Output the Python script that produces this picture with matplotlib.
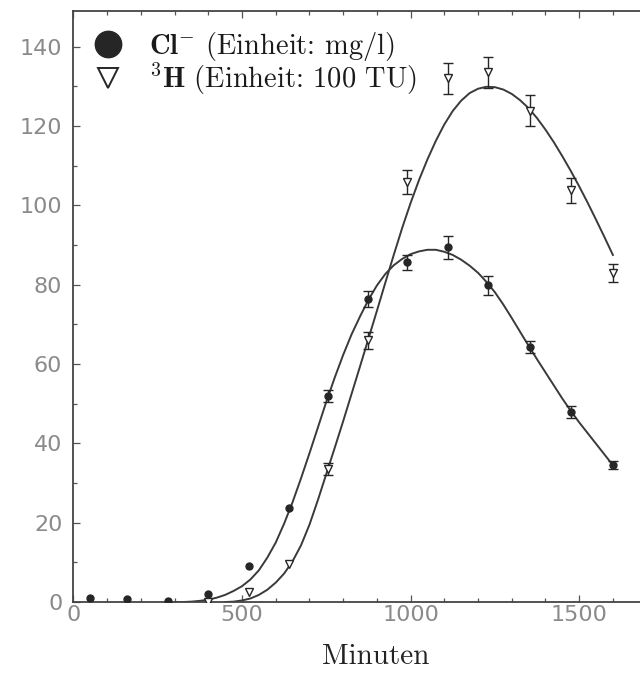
import matplotlib
matplotlib.use("Agg")
import matplotlib.pyplot as plt
from matplotlib.lines import Line2D
import numpy as np

plt.rcParams['mathtext.fontset'] = 'cm'

# ---- data ----
cl_x = [50, 160, 280, 400, 520, 640, 755, 875, 990, 1110, 1230, 1355, 1475, 1600]
cl_y = [1.0, 0.8, 0.3, 2.0, 9.1, 23.7, 51.9, 76.3, 85.6, 89.4, 79.8, 64.2, 47.9, 34.5]
cl_err = [0, 0, 0, 0, 0, 0, 1.5, 2.0, 2.0, 3.0, 2.5, 1.5, 1.5, 1.0]

h3_x = [400, 520, 640, 755, 875, 990, 1110, 1230, 1355, 1475, 1600]
h3_y = [0.0, 2.5, 9.6, 33.5, 66.0, 105.8, 132.0, 133.5, 123.9, 103.8, 82.9]
h3_err = [0, 0, 0, 1.5, 2.2, 3.0, 4.0, 4.0, 3.8, 3.2, 2.3]

# fitted curves, every 25 minutes
cl_fit_x = list(range(300, 1601, 25))
cl_fit_y = [0.0, 0.0, 0.1, 0.3, 0.6, 1.1, 1.8, 2.8, 4.0, 5.7, 8.0, 11.2, 15.0, 19.8,
            25.2, 31.2, 37.5, 44.0, 50.5, 56.6, 62.3, 67.5, 72.0, 76.2, 79.8, 82.7,
            84.9, 86.5, 87.7, 88.4, 88.8, 88.8, 88.3, 87.5, 86.3, 84.8, 83.0, 80.7,
            78.1, 75.0, 71.6, 68.1, 64.6, 61.2, 57.9, 54.6, 51.3, 48.2, 45.3, 42.6,
            39.9, 37.2, 34.5]

h3_fit_x = list(range(450, 1601, 25))
h3_fit_y = [0.0, 0.1, 0.4, 0.9, 1.8, 3.1, 4.9, 7.2, 10.3, 14.3, 19.5, 25.7, 32.3,
            38.9, 45.6, 52.5, 59.4, 66.4, 73.4, 80.5, 87.5, 94.3, 100.6, 106.4, 111.6,
            116.3, 120.4, 123.8, 126.4, 128.3, 129.4, 129.9, 129.8, 129.2, 128.1, 126.5,
            124.5, 122.0, 119.1, 115.9, 112.4, 108.7, 104.8, 100.7, 96.4, 92.0, 87.5]

x_ticks = [0, 500, 1000, 1500]
y_ticks = [0, 20, 40, 60, 80, 100, 120, 140]

legend_labels = [r"$\mathbf{Cl}^{-}$ (Einheit: mg/l)",
                 r"$^{3}\mathbf{H}$ (Einheit: 100 TU)"]
x_label = "Minuten"

# ---- drawing ----
ink = '#262626'
fig = plt.figure(figsize=(6.4, 6.75), dpi=100)
ax = fig.add_axes([0.1148, 0.1081, 0.8955, 0.8756])

ax.plot(cl_fit_x, cl_fit_y, color='#3a3a3a', lw=1.4, zorder=2)
ax.plot(h3_fit_x, h3_fit_y, color='#3a3a3a', lw=1.4, zorder=2)

cl_x_a = np.array(cl_x); cl_y_a = np.array(cl_y); cl_e_a = np.array(cl_err)
h3_x_a = np.array(h3_x); h3_y_a = np.array(h3_y); h3_e_a = np.array(h3_err)

m = cl_e_a > 0
ax.errorbar(cl_x_a[m], cl_y_a[m], yerr=cl_e_a[m], fmt='none', ecolor=ink,
            elinewidth=1.0, capsize=3.5, capthick=1.0, zorder=3)
m = h3_e_a > 0
ax.errorbar(h3_x_a[m], h3_y_a[m], yerr=h3_e_a[m], fmt='none', ecolor=ink,
            elinewidth=1.0, capsize=3.5, capthick=1.0, zorder=3)

ax.plot(h3_x, h3_y, ls='none', marker='v', ms=5.5, mfc='white', mec=ink, mew=1.0, zorder=4)
ax.plot(cl_x, cl_y, ls='none', marker='o', ms=5.0, color=ink, zorder=5)

ax.set_xlim(0, 1700)
ax.set_ylim(0, 149)
ax.set_xticks(x_ticks)
ax.set_yticks(y_ticks)
ax.set_xticks(np.arange(0, 1701, 100), minor=True)
ax.set_yticks(np.arange(0, 150, 10), minor=True)

for s in ax.spines.values():
    s.set_color('#444444')
    s.set_linewidth(1.3)

ax.tick_params(which='both', direction='in', top=True, right=True, color='#555555', width=0.9)
ax.tick_params(which='major', length=5)
ax.tick_params(which='minor', length=3)
ax.tick_params(axis='x', which='major', pad=2)
ax.tick_params(axis='y', which='major', pad=8)
for lab in ax.get_xticklabels() + ax.get_yticklabels():
    lab.set_fontfamily('DejaVu Sans')
    lab.set_fontweight('normal')
    lab.set_fontsize(16)
    lab.set_color('#8a8a8a')

ax.set_xlabel(x_label, fontfamily='cmr10', fontsize=21, color='#222222')
ax.xaxis.set_label_coords(0.528, -0.092)
ax.xaxis.label.set_va('center')

handles = [Line2D([], [], ls='none', marker='o', ms=19, color=ink),
           Line2D([], [], ls='none', marker='v', ms=15, mfc='white', mec=ink, mew=1.4)]
leg = ax.legend(handles, legend_labels, loc='upper left', bbox_to_anchor=(0.0, 1.002),
                frameon=False, handlelength=1.0, handletextpad=0.95, labelspacing=-0.05,
                borderaxespad=0.3, prop={'family': 'cmr10', 'size': 20.5})
for t in leg.get_texts():
    t.set_color('#1a1a1a')

fig.savefig('out.png', dpi=100, facecolor='white')
